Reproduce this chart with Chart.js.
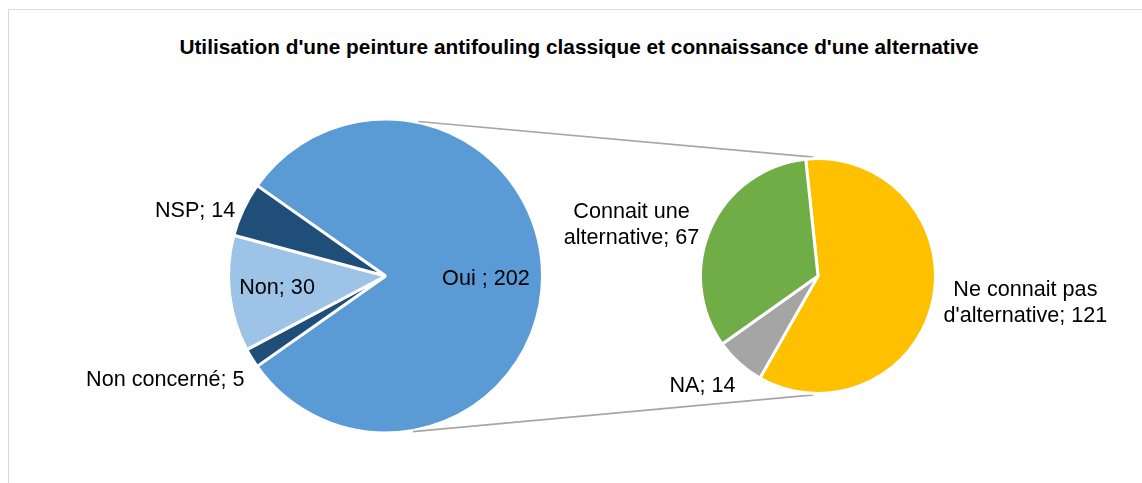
<!DOCTYPE html>
<html><head><meta charset="utf-8">
<script src="https://cdn.jsdelivr.net/npm/chart.js@4.4.1/dist/chart.umd.min.js"></script>
<style>
html,body{margin:0;padding:0;background:#fff;overflow:hidden;}
#wrap{position:relative;width:1142px;height:483px;overflow:hidden;background:#fff;}
#frame{position:absolute;left:8px;top:9px;width:1200px;height:600px;border:1px solid #D9D9D9;box-sizing:border-box;}
#title{position:absolute;left:0;width:1158px;top:35px;line-height:24px;text-align:center;font:bold 20.8px "Liberation Sans",Arial,sans-serif;color:#000;white-space:nowrap;}
canvas{position:absolute;left:0;top:0;}
</style></head><body>
<div id="wrap">
<div id="frame"></div>
<div id="title">Utilisation d'une peinture antifouling classique et connaissance d'une alternative</div>
<canvas id="c1" width="1142" height="483"></canvas>
<canvas id="c2" width="1142" height="483"></canvas>
</div>
<script>
// ---- data ----
const mainCategories = ['Oui', 'Non concerné', 'Non', 'NSP'];
const mainValues = [202, 5, 30, 14];
const mainLabels = [['Oui ; 202'], ['Non concerné; 5'], ['Non; 30'], ['NSP; 14']];

const subCategories = ["Ne connait pas d'alternative", 'NA', 'Connait une alternative'];
const subValues = [121, 14, 67];
const subLabels = [['Ne connait pas', "d'alternative; 121"], ['NA; 14'], ['Connait une', 'alternative; 67']];

// ---- styles ----
const mainColors = ['#5B9BD5', '#1F4E79', '#9DC3E6', '#1F4E79'];
const subColors = ['#FFC000', '#A5A5A5', '#70AD47'];
const labelFont = '21.6px "Liberation Sans", Arial, sans-serif';

const labelPlugin = {
  id: 'sliceLabels',
  afterDatasetsDraw(chart, args, opts) {
    const ctx = chart.ctx;
    const meta = chart.getDatasetMeta(0);
    ctx.save();
    ctx.font = opts.font;
    ctx.fillStyle = '#000';
    ctx.textBaseline = 'middle';
    meta.data.forEach((arc, i) => {
      const spec = opts.place[i];
      const p = arc.getProps(['x', 'y', 'startAngle', 'endAngle', 'outerRadius'], true);
      const mid = (p.startAngle + p.endAngle) / 2 + spec.da * Math.PI / 180;
      const r = p.outerRadius * spec.k;
      const px = p.x + r * Math.cos(mid);
      const py = p.y + r * Math.sin(mid);
      const lines = opts.text[i];
      ctx.textAlign = spec.align;
      lines.forEach((t, j) => {
        ctx.fillText(t, px, py + (j - (lines.length - 1) / 2) * opts.lineHeight);
      });
    });
    ctx.restore();
  }
};

const leftChart = new Chart(document.getElementById('c1'), {
  type: 'pie',
  data: {
    labels: mainCategories,
    datasets: [{ data: mainValues, backgroundColor: mainColors, borderColor: '#FFFFFF', borderWidth: 3 }]
  },
  options: {
    responsive: false,
    animation: false,
    events: [],
    rotation: -54.86,
    layout: { padding: { left: 227, top: 117.5, right: 598, bottom: 48.5 } },
    plugins: {
      legend: { display: false },
      tooltip: { enabled: false },
      sliceLabels: {
        font: labelFont,
        lineHeight: 26,
        text: mainLabels,
        place: [
          { k: 0.64, da: 2, align: 'center' },
          { k: 1.118, da: -5, align: 'right' },
          { k: 0.695, da: 0, align: 'center' },
          { k: 1.043, da: -1.6, align: 'right' }
        ]
      }
    }
  },
  plugins: [labelPlugin]
});

const connectorPlugin = {
  id: 'connectors',
  beforeDatasetsDraw(chart, args, opts) {
    const a = leftChart.getDatasetMeta(0).data[0];
    const b = chart.getDatasetMeta(0).data[0];
    if (!a || !b) return;
    const pt = (arc, deg, extra) => {
      const t = deg * Math.PI / 180;
      const r = arc.outerRadius + extra;
      return [arc.x + r * Math.sin(t), arc.y - r * Math.cos(t)];
    };
    const ctx = chart.ctx;
    ctx.save();
    ctx.strokeStyle = opts.color;
    ctx.lineWidth = opts.width;
    [[opts.leftAngles[0], opts.rightAngles[0]], [opts.leftAngles[1], opts.rightAngles[1]]].forEach(([la, ra]) => {
      const p1 = pt(a, la, 1), p2 = pt(b, ra, 1.5);
      ctx.beginPath();
      ctx.moveTo(p1[0], p1[1]);
      ctx.lineTo(p2[0], p2[1]);
      ctx.stroke();
    });
    ctx.restore();
  }
};

const rightChart = new Chart(document.getElementById('c2'), {
  type: 'pie',
  data: {
    labels: subCategories,
    datasets: [{ data: subValues, backgroundColor: subColors, borderColor: '#FFFFFF', borderWidth: 3 }]
  },
  options: {
    responsive: false,
    animation: false,
    events: [],
    rotation: -6,
    layout: { padding: { left: 699, top: 157, right: 205, bottom: 88 } },
    plugins: {
      legend: { display: false },
      tooltip: { enabled: false },
      connectors: { color: '#A6A6A6', width: 1.6, leftAngles: [12, 170], rightAngles: [-2.2, 182.2] },
      sliceLabels: {
        font: labelFont,
        lineHeight: 26,
        text: subLabels,
        place: [
          { k: 1.78, da: -4.4, align: 'center' },
          { k: 1.357, da: 4.3, align: 'center' },
          { k: 1.645, da: -9, align: 'center' }
        ]
      }
    }
  },
  plugins: [connectorPlugin, labelPlugin]
});
</script>
</body></html>
